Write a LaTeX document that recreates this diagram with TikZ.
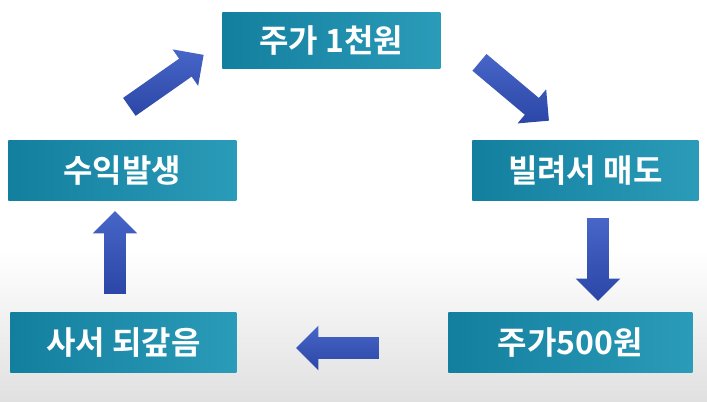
\documentclass[tikz,border=0pt]{standalone}
\usepackage{fontspec}
\newfontfamily\kr{Noto Sans CJK KR Bold}
\usetikzlibrary{shapes.arrows}
\definecolor{boxA}{HTML}{137F9E}
\definecolor{boxB}{HTML}{2A9BB8}
\definecolor{arr}{HTML}{2B46A6}
\definecolor{arrL}{HTML}{4766C8}
\begin{document}
\begin{tikzpicture}[x=0.75pt,y=-0.75pt,
  box/.style={rectangle,left color=boxA,right color=boxB,text=white,font=\kr\fontsize{24}{26}\selectfont,inner sep=0pt,anchor=north west},
  barrow/.style={single arrow,draw=none,top color=arrL,bottom color=arr,minimum height=#1,inner xsep=0pt,inner ysep=8pt,single arrow head extend=8.5pt,single arrow tip angle=90}]
\useasboundingbox (0,0) rectangle (707,401);
\fill[top color=white,bottom color=black!12] (0,250) rectangle (707,401);
\node[box,minimum width=218*0.75pt,minimum height=56*0.75pt] (b1) at (222,12) {주가 1천원};
\node[box,minimum width=226*0.75pt,minimum height=60*0.75pt] (b2) at (472,140) {빌려서 매도};
\node[box,minimum width=244*0.75pt,minimum height=60*0.75pt] (b3) at (448,312) {주가500원};
\node[box,minimum width=226*0.75pt,minimum height=60*0.75pt] (b4) at (10,312) {사서 되갚음};
\node[box,minimum width=228*0.75pt,minimum height=60*0.75pt] (b5) at (8,140) {수익발생};
\node[barrow=68pt,rotate=35] (a1) at (162,84) {};
\node[barrow=68pt,rotate=-40] (a2) at (510,88) {};
\node[barrow=62pt,rotate=-90] (a3) at (598,254) {};
\node[barrow=62pt,rotate=180] (a4) at (343,348) {};
\node[barrow=62pt,rotate=90] (a5) at (115,258) {};
\end{tikzpicture}
\end{document}
